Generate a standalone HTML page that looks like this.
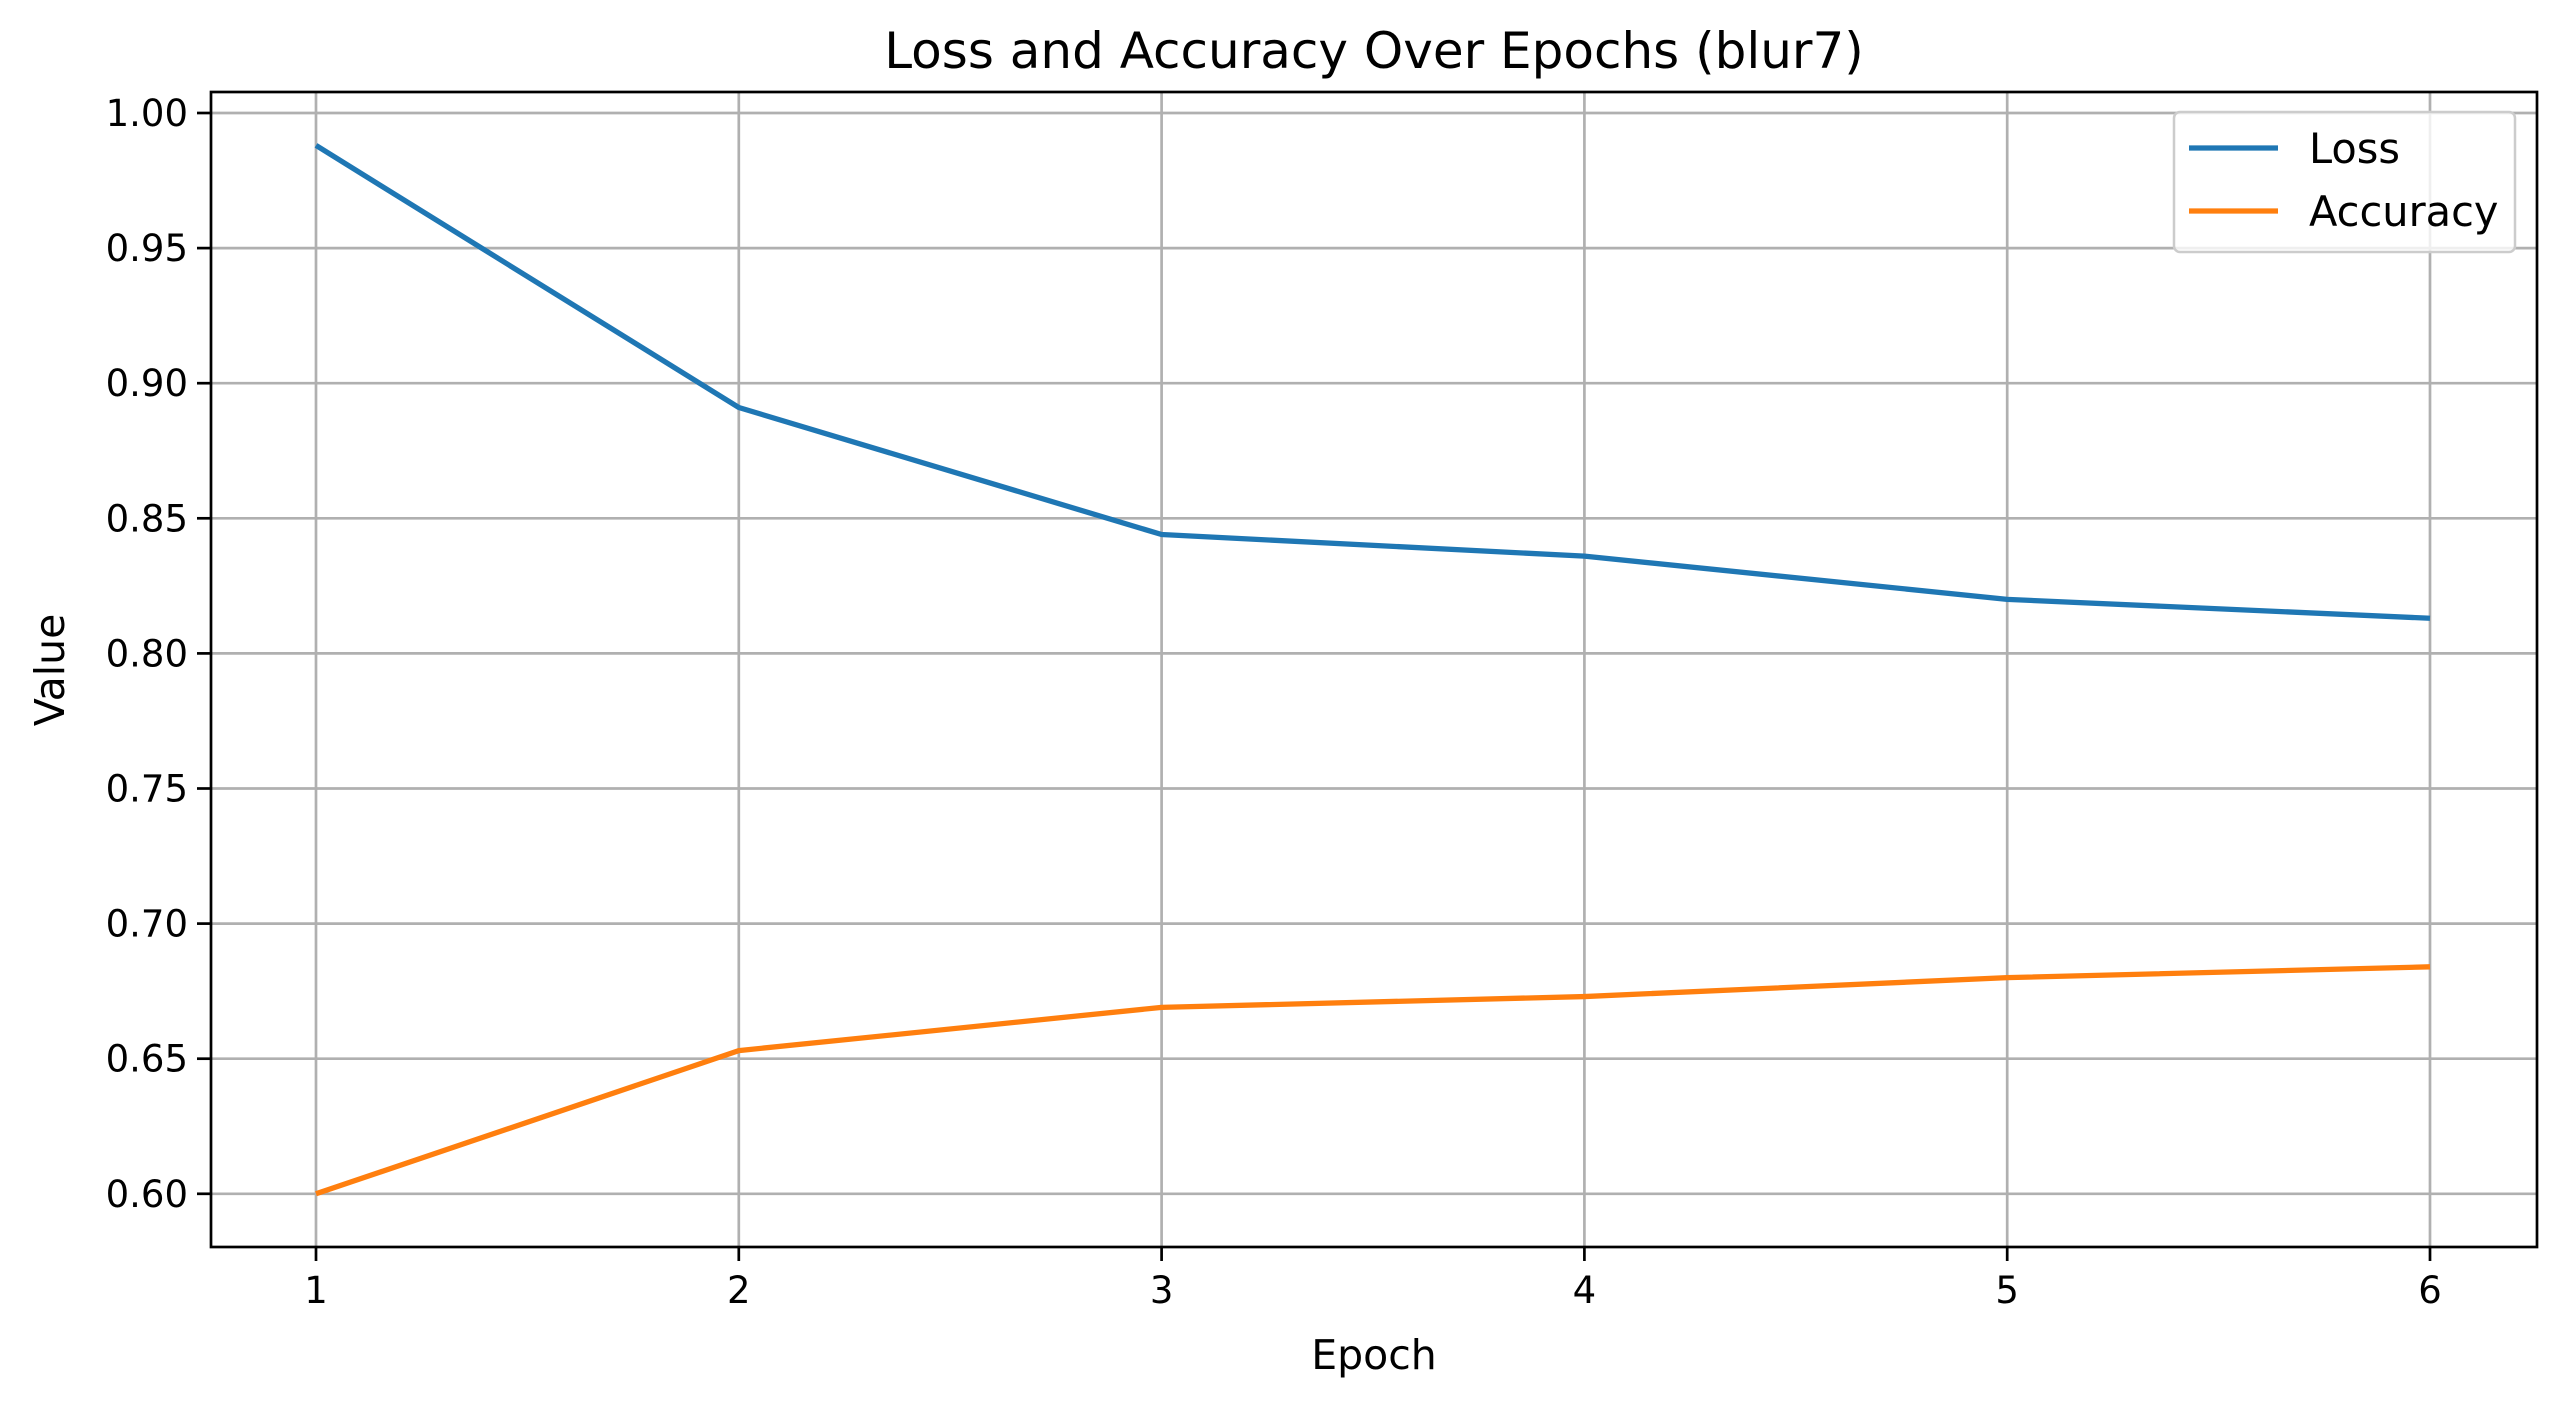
<!DOCTYPE html>
<html><head><meta charset="utf-8"><style>
html,body{margin:0;padding:0;background:#fff;}
svg{display:block;font-family:"DejaVu Sans","Liberation Sans",sans-serif;}
</style></head><body>
<svg id="chart" width="2565" height="1407" viewBox="0 0 2565 1407" xmlns="http://www.w3.org/2000/svg">
<rect width="2565" height="1407" fill="#fff"/>
<g id="grid"></g>
<g id="series"></g>
<rect x="211" y="92" width="2326" height="1155" fill="none" stroke="#000" stroke-width="2.7"/>
<g id="ticks"></g>
<text x="1374" y="68" font-size="50" text-anchor="middle">Loss and Accuracy Over Epochs (blur7)</text>
<text x="1374" y="1369" font-size="41" text-anchor="middle">Epoch</text>
<text x="0" y="0" font-size="41" text-anchor="middle" transform="translate(64,670) rotate(-90)">Value</text>
<g>
<rect x="2174" y="112" width="341" height="140" rx="6" fill="#fff" fill-opacity="0.8" stroke="#ccc" stroke-width="2.5"/>
<line x1="2189" y1="148" x2="2278" y2="148" stroke="#1f77b4" stroke-width="5.3"/>
<text x="2309" y="163" font-size="41.5">Loss</text>
<line x1="2189" y1="211" x2="2278" y2="211" stroke="#ff7f0e" stroke-width="5.3"/>
<text x="2309" y="226" font-size="41.5">Accuracy</text>
</g>
</svg>
<script>
const epochs = [1, 2, 3, 4, 5, 6];
const lossValues = [0.988, 0.891, 0.844, 0.836, 0.820, 0.813];
const accuracyValues = [0.600, 0.653, 0.669, 0.673, 0.680, 0.684];
const yTickValues = [0.60, 0.65, 0.70, 0.75, 0.80, 0.85, 0.90, 0.95, 1.00];
const xTickValues = [1, 2, 3, 4, 5, 6];

const NS = "http://www.w3.org/2000/svg";
function xScale(e){ return 316 + (e - 1) * 422.8; }
function yScale(v){ return 113 + (1.0 - v) / 0.05 * 135.1; }
function mk(tag, attrs, parent){
  const el = document.createElementNS(NS, tag);
  for (const k in attrs) el.setAttribute(k, attrs[k]);
  parent.appendChild(el);
  return el;
}
const grid = document.getElementById('grid');
const ticks = document.getElementById('ticks');
const series = document.getElementById('series');

xTickValues.forEach(function(t){
  const x = xScale(t);
  const g = mk('line', {x1:x, y1:92, x2:x, y2:1247, stroke:'#b0b0b0', 'stroke-width':2.7}, grid);
  
  
  const tk = mk('line', {x1:x, y1:1247, x2:x, y2:1261, stroke:'#000', 'stroke-width':2.7}, ticks);
  
  
  const lb = mk('text', {x:x, y:1303, 'font-size':37, 'text-anchor':'middle'}, ticks);
  lb.textContent = String(t);
  
  
});
yTickValues.forEach(function(t){
  const y = yScale(t);
  const g = mk('line', {x1:211, y1:y, x2:2537, y2:y, stroke:'#b0b0b0', 'stroke-width':2.7}, grid);
  
  
  const tk = mk('line', {x1:197, y1:y, x2:211, y2:y, stroke:'#000', 'stroke-width':2.7}, ticks);
  
  
  const lb = mk('text', {x:188, y:y+13, 'font-size':37, 'text-anchor':'end'}, ticks);
  lb.textContent = t.toFixed(2);
  
  
});
function pts(vals){ return vals.map(function(v,i){ return xScale(epochs[i]) + ',' + yScale(v); }).join(' '); }
const lossLine = mk('polyline', {points:pts(lossValues), fill:'none', stroke:'#1f77b4', 'stroke-width':5.3, 'stroke-linejoin':'round'}, series);


const accLine = mk('polyline', {points:pts(accuracyValues), fill:'none', stroke:'#ff7f0e', 'stroke-width':5.3, 'stroke-linejoin':'round'}, series);


</script>
</body></html>
